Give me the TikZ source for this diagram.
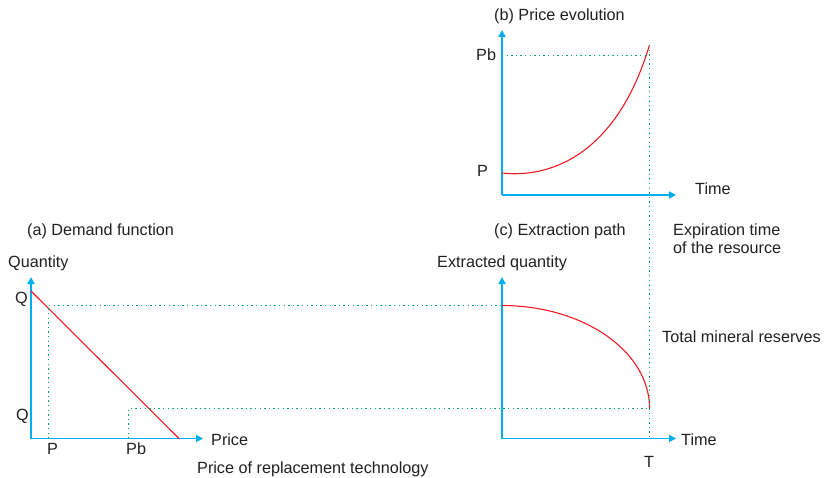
\documentclass[tikz,border=0pt]{standalone}
\usepackage{fontspec}
\setmainfont{Liberation Sans}
\usetikzlibrary{arrows.meta,calc}
\definecolor{axisblue}{RGB}{0,174,239}
\definecolor{curvered}{RGB}{237,28,36}
\definecolor{guidegreen}{RGB}{0,178,90}
\definecolor{textgray}{RGB}{35,31,32}
\tikzset{
  axis/.style={axisblue,line width=1.8pt,-{Triangle[length=7pt,width=7pt]}},
  curve/.style={curvered,line width=1.1pt},
  guide/.style={guidegreen,line width=1.1pt,dash pattern=on 1.4pt off 3.2pt},
  txt/.style={anchor=base west,inner sep=0pt,text=textgray,font=\fontsize{16.2}{18}\selectfont}
}
\newcommand \mydrawaxes[5]
{
\coordinate (#1o) at (#2,#3);
\coordinate (#1x) at (#4,#3);
\coordinate (#1y) at (#2,#5);
\draw[axis] (#1o)--(#1x);
\draw[axis] (#1o)--(#1y);
}
\begin{document}
\begin{tikzpicture}[x=1pt,y=-1pt,line join=round]
\useasboundingbox (0,0) rectangle (824,478);
\mydrawaxes{a}{31}{438.5}{203}{277}
\mydrawaxes{b}{502}{195}{676}{30}
\mydrawaxes{c}{502}{438.5}{676}{277}
% (a) demand function
\coordinate (Qtop) at (31,291);
\coordinate (Pmax) at (179,438.5);
\coordinate (Ahi) at (48.5,305.5);
\coordinate (Alo) at (128.5,408.5);
\draw[curve] (Qtop)--(Pmax);
% (b) price evolution
\coordinate (Bstart) at (502,173);
\coordinate (Bend) at (649.5,45);
\coordinate (Pbb) at (502,55.5);
\draw[curve] (Bstart) .. controls (545,178) and (615,160) .. (Bend);
% (c) extraction path
\coordinate (Cstart) at (502,305.5);
\coordinate (Cend) at (649.5,408.5);
\draw[curve,domain=-90:0,samples=80] plot ({502+147.5*cos(\x)},{408+102.5*sin(\x)});
% guides
\draw[guide] (Ahi |- ao)--(Ahi)--(Cstart);
\draw[guide] (Alo |- ao)--(Alo)--(Cend);
\draw[guide] (Pbb)--(Pbb -| Bend);
\draw[guide] (Bend)--(Bend |- co);
% labels
\node[txt] (ta) at (27,236) {(a) Demand function};
\node[txt] (qa) at (8,267) {Quantity};
\node[txt] (qhi) at (15,303) {Q};
\node[txt] (qlo) at (16,420) {Q};
\node[txt] (pa) at (47,454) {P};
\node[txt] (pba) at (126,454) {Pb};
\node[txt] (pra) at (211,445) {Price};
\node[txt] (prr) at (197,473) {Price of replacement technology};
\node[txt] (tb) at (494,21) {(b) Price evolution};
\node[txt] (pbb) at (476,61) {Pb};
\node[txt] (pb) at (477,177) {P};
\node[txt] (timeb) at (695,195) {Time};
\node[txt] (tc) at (494,236) {(c) Extraction path};
\node[txt] (exp1) at (673,236) {Expiration time};
\node[txt] (exp2) at (673,254) {of the resource};
\node[txt] (eq) at (437,267) {Extracted quantity};
\node[txt] (tmr) at (662,342) {Total mineral reserves};
\node[txt] (timec) at (681,445) {Time};
\node[txt] (tT) at (644,467) {T};
\end{tikzpicture}
\end{document}
